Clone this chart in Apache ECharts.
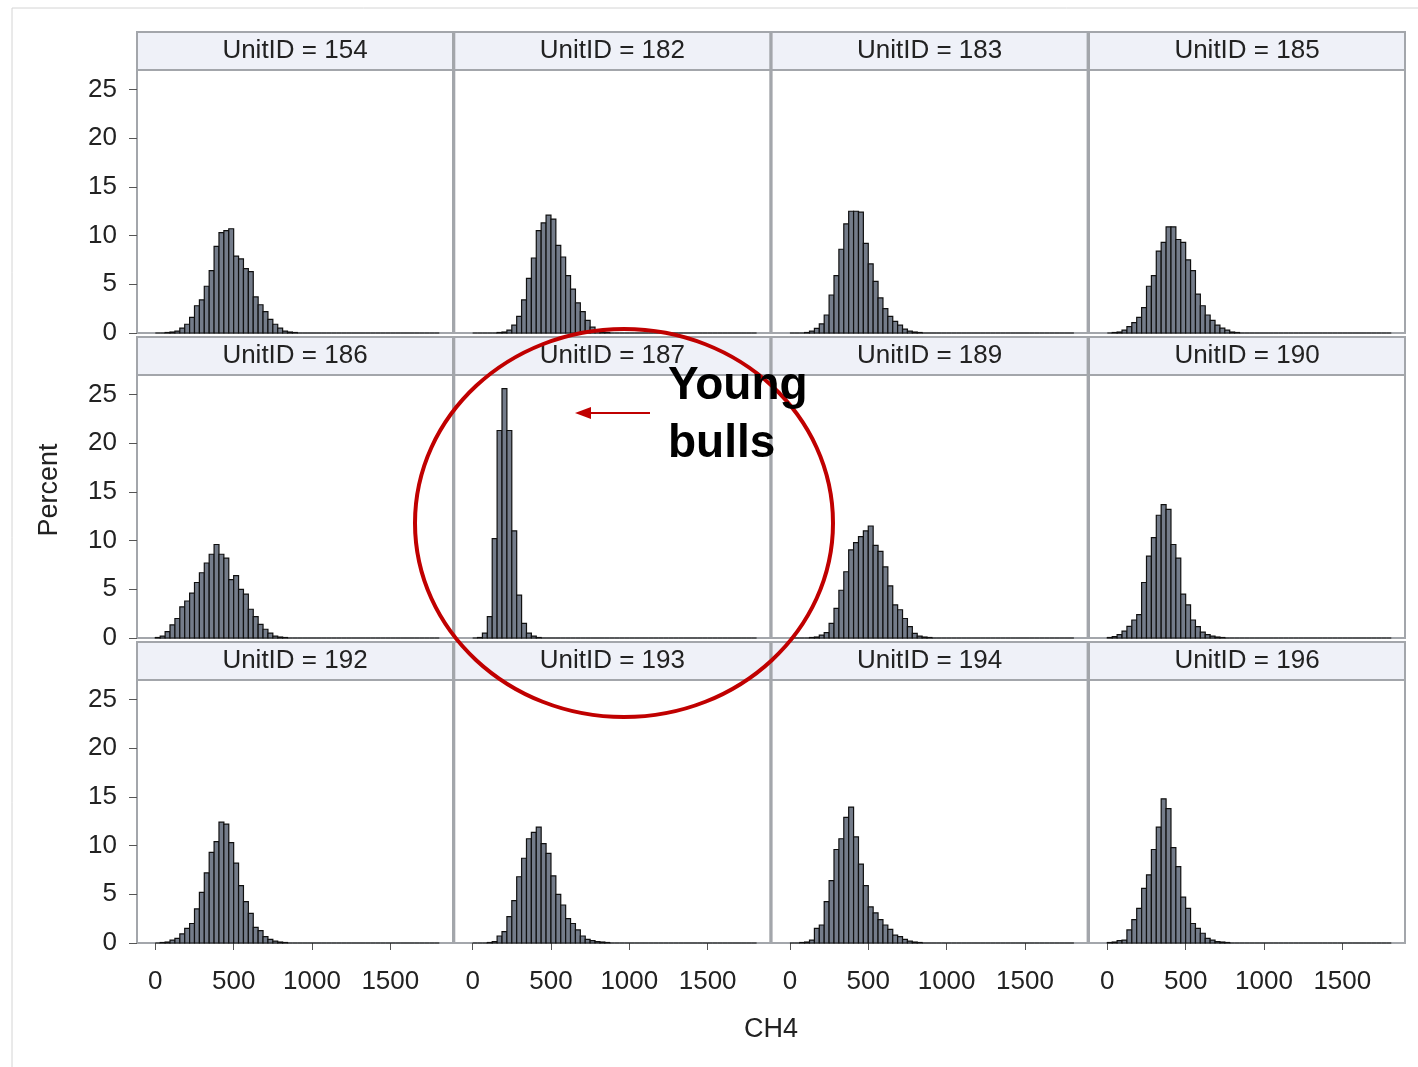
<!DOCTYPE html>
<html>
<head>
<meta charset="utf-8">
<script src="https://cdn.jsdelivr.net/npm/echarts@6/dist/echarts.min.js"></script>
<style>
  html, body { margin: 0; padding: 0; background: #ffffff; }
  #chart { width: 1418px; height: 1067px; }
</style>
</head>
<body>
<div id="chart"></div>
<script>
// Panel labels (one histogram per unit)
const unitIds = ['154', '182', '183', '185', '186', '187', '189', '190', '192', '193', '194', '196'];

// Histogram bin width in CH4 units; bin k spans [k*w, (k+1)*w]
const BIN_WIDTH = 31.25;

// Percent of records falling in each CH4 bin (58 bins, 0 .. 1812.5)
const pct154 = [
  0, 0, 0.05, 0.1, 0.2, 0.5, 0.9, 1.6, 2.8, 3.4,
  4.8, 6.4, 8.9, 10.3, 10.5, 10.7, 7.9, 7.6, 6.6, 6.3,
  3.7, 2.9, 2.2, 1.4, 0.9, 0.5, 0.2, 0.1, 0.05, 0,
  0, 0, 0, 0, 0, 0, 0, 0, 0, 0,
  0, 0, 0, 0, 0, 0, 0, 0, 0, 0,
  0, 0, 0, 0, 0, 0, 0, 0
];
const pct182 = [
  0, 0, 0, 0, 0, 0.05, 0.1, 0.3, 0.8, 1.7,
  3.4, 5.6, 7.7, 10.5, 11.3, 12.1, 11.7, 9.0, 7.8, 5.9,
  4.5, 3.1, 2.2, 1.3, 0.6, 0.3, 0.1, 0.05, 0, 0,
  0, 0, 0, 0, 0, 0, 0, 0, 0, 0,
  0, 0, 0, 0, 0, 0, 0, 0, 0, 0,
  0, 0, 0, 0, 0, 0, 0, 0
];
const pct183 = [
  0, 0, 0, 0.05, 0.2, 0.48, 0.93, 1.85, 3.9, 5.9,
  8.6, 11.2, 12.5, 12.5, 12.4, 9.2, 7.1, 5.3, 3.6, 2.5,
  1.7, 1.2, 0.8, 0.4, 0.2, 0.1, 0.05, 0, 0, 0,
  0, 0, 0, 0, 0, 0, 0, 0, 0, 0,
  0, 0, 0, 0, 0, 0, 0, 0, 0, 0,
  0, 0, 0, 0, 0, 0, 0, 0
];
const pct185 = [
  0, 0.05, 0.1, 0.3, 0.65, 1.06, 1.6, 2.6, 4.8, 5.9,
  8.4, 9.3, 10.9, 10.9, 9.6, 9.3, 7.5, 6.4, 4.0, 2.8,
  1.85, 1.3, 0.8, 0.5, 0.3, 0.1, 0.05, 0, 0, 0,
  0, 0, 0, 0, 0, 0, 0, 0, 0, 0,
  0, 0, 0, 0, 0, 0, 0, 0, 0, 0,
  0, 0, 0, 0, 0, 0, 0, 0
];
const pct186 = [
  0.05, 0.2, 0.65, 1.34, 2.0, 3.2, 3.8, 4.6, 5.7, 6.7,
  7.7, 8.6, 9.6, 8.6, 8.2, 6.0, 6.4, 5.0, 4.5, 2.95,
  2.2, 1.4, 0.9, 0.5, 0.2, 0.1, 0.05, 0, 0, 0,
  0, 0, 0, 0, 0, 0, 0, 0, 0, 0,
  0, 0, 0, 0, 0, 0, 0, 0, 0, 0,
  0, 0, 0, 0, 0, 0, 0, 0
];
const pct187 = [
  0, 0.05, 0.5, 2.2, 10.2, 21.3, 25.6, 21.3, 11.0, 4.4,
  1.5, 0.5, 0.2, 0.05, 0, 0, 0, 0, 0, 0,
  0, 0, 0, 0, 0, 0, 0, 0, 0, 0,
  0, 0, 0, 0, 0, 0, 0, 0, 0, 0,
  0, 0, 0, 0, 0, 0, 0, 0, 0, 0,
  0, 0, 0, 0, 0, 0, 0, 0
];
const pct189 = [
  0, 0, 0, 0, 0.05, 0.1, 0.3, 0.55, 1.5, 3.05,
  4.9, 6.8, 9.05, 9.8, 10.4, 11.0, 11.5, 9.5, 8.9, 7.3,
  5.35, 3.4, 2.9, 2.0, 1.16, 0.48, 0.2, 0.1, 0.05, 0,
  0, 0, 0, 0, 0, 0, 0, 0, 0, 0,
  0, 0, 0, 0, 0, 0, 0, 0, 0, 0,
  0, 0, 0, 0, 0, 0, 0, 0
];
const pct190 = [
  0.05, 0.15, 0.35, 0.7, 1.2, 1.85, 2.4, 5.7, 8.4, 10.3,
  12.6, 13.7, 13.2, 9.6, 8.2, 4.5, 3.4, 1.85, 1.16, 0.6,
  0.35, 0.2, 0.1, 0.05, 0, 0, 0, 0, 0, 0,
  0, 0, 0, 0, 0, 0, 0, 0, 0, 0,
  0, 0, 0, 0, 0, 0, 0, 0, 0, 0,
  0, 0, 0, 0, 0, 0, 0, 0
];
const pct192 = [
  0, 0.05, 0.1, 0.3, 0.48, 0.93, 1.5, 2.0, 3.5, 5.2,
  7.2, 9.3, 10.4, 12.4, 12.2, 10.3, 8.2, 5.9, 4.25, 3.05,
  1.6, 1.27, 0.65, 0.38, 0.2, 0.1, 0.05, 0, 0, 0,
  0, 0, 0, 0, 0, 0, 0, 0, 0, 0,
  0, 0, 0, 0, 0, 0, 0, 0, 0, 0,
  0, 0, 0, 0, 0, 0, 0, 0
];
const pct193 = [
  0, 0, 0, 0.05, 0.15, 0.72, 1.16, 2.7, 4.35, 6.8,
  8.7, 10.7, 11.35, 11.9, 10.2, 9.2, 6.9, 5.0, 3.9, 2.5,
  2.0, 1.34, 0.72, 0.38, 0.25, 0.15, 0.1, 0.05, 0, 0,
  0, 0, 0, 0, 0, 0, 0, 0, 0, 0,
  0, 0, 0, 0, 0, 0, 0, 0, 0, 0,
  0, 0, 0, 0, 0, 0, 0, 0
];
const pct194 = [
  0, 0, 0.05, 0.1, 0.3, 1.5, 1.85, 4.25, 6.4, 9.6,
  10.7, 12.9, 13.95, 10.9, 8.1, 5.9, 3.7, 3.1, 2.4, 1.85,
  1.4, 0.8, 0.65, 0.38, 0.2, 0.1, 0.05, 0, 0, 0,
  0, 0, 0, 0, 0, 0, 0, 0, 0, 0,
  0, 0, 0, 0, 0, 0, 0, 0, 0, 0,
  0, 0, 0, 0, 0, 0, 0, 0
];
const pct196 = [
  0.05, 0.1, 0.24, 0.3, 1.34, 2.4, 3.55, 5.6, 7.0, 9.6,
  11.9, 14.8, 13.8, 9.8, 7.85, 4.7, 3.55, 2.0, 1.5, 1.0,
  0.48, 0.3, 0.15, 0.1, 0.05, 0, 0, 0, 0, 0,
  0, 0, 0, 0, 0, 0, 0, 0, 0, 0,
  0, 0, 0, 0, 0, 0, 0, 0, 0, 0,
  0, 0, 0, 0, 0, 0, 0, 0
];
const percentByUnit = [
  pct154, pct182, pct183, pct185,
  pct186, pct187, pct189, pct190,
  pct192, pct193, pct194, pct196
];

// Axis ticks
const xTickValues = [0, 500, 1000, 1500];
const yTickStep = 5;

// Panel geometry
const COLS = 4;
const panelLeft = [137, 454.3, 771.6, 1089];
const panelTop = [70, 375, 680];
const panelWidth = 316;
const panelHeight = 263;
const stripHeight = 38;

const FONT = '"Liberation Sans", Arial, Helvetica, sans-serif';
const TEXT = '#222222';
const FRAME = '#a3a6ab';
const STRIP_FILL = '#eff1f8';
const BAR_FILL = '#747c8a';
const BAR_EDGE = '#101010';
const ANNOT_RED = '#c00000';

const chart = echarts.init(document.getElementById('chart'), null, { renderer: 'canvas' });

const grids = [], xAxes = [], yAxes = [], series = [], graphics = [];

function renderBin(params, api) {
  const top = api.coord([api.value(0), api.value(2)]);
  const base = api.coord([api.value(1), 0]);
  return {
    type: 'rect',
    shape: { x: top[0], y: top[1], width: base[0] - top[0], height: base[1] - top[1] },
    style: { fill: BAR_FILL, stroke: BAR_EDGE, lineWidth: 1.2 }
  };
}

unitIds.forEach((id, i) => {
  const row = Math.floor(i / COLS);
  const col = i % COLS;
  const isBottom = row === panelTop.length - 1;
  const isLeft = col === 0;
  const left = panelLeft[col];
  const top = panelTop[row];

  grids.push({
    left: left, top: top, width: panelWidth, height: panelHeight,
    show: true, borderColor: FRAME, borderWidth: 2, backgroundColor: '#ffffff'
  });

  xAxes.push({
    type: 'value', gridIndex: i, min: -117, max: 1900, position: 'bottom',
    axisLine: { show: false, onZero: false },
    splitLine: { show: false },
    axisTick: { show: isBottom, customValues: xTickValues, length: 7, lineStyle: { color: '#555' } },
    axisLabel: {
      show: isBottom, customValues: xTickValues, margin: 26,
      fontFamily: FONT, fontSize: 26, color: TEXT,
      formatter: (v) => String(v)
    }
  });

  yAxes.push({
    type: 'value', gridIndex: i, min: 0, max: 27, interval: yTickStep, position: 'left',
    axisLine: { show: false, onZero: false },
    splitLine: { show: false },
    axisTick: { show: isLeft, length: 8, lineStyle: { color: '#555' } },
    axisLabel: { show: isLeft, margin: 20, fontFamily: FONT, fontSize: 26, color: TEXT }
  });

  series.push({
    type: 'custom', xAxisIndex: i, yAxisIndex: i,
    data: percentByUnit[i].map((p, k) => [k * BIN_WIDTH, (k + 1) * BIN_WIDTH, p]),
    encode: { x: [0, 1], y: 2 },
    renderItem: renderBin,
    silent: true
  });

  // Header strip with the unit label
  graphics.push({
    type: 'rect', z: 10,
    shape: { x: left, y: top - stripHeight, width: panelWidth, height: stripHeight },
    style: { fill: STRIP_FILL, stroke: FRAME, lineWidth: 2 }
  });
  graphics.push({
    type: 'text', z: 11,
    x: left + panelWidth / 2, y: top - stripHeight / 2,
    style: {
      text: 'UnitID = ' + id, fontFamily: FONT, fontSize: 26, fill: TEXT,
      textAlign: 'center', textVerticalAlign: 'middle'
    }
  });
});

// Axis titles
graphics.push({
  type: 'text', z: 11, x: 50, y: 490, rotation: Math.PI / 2,
  style: { text: 'Percent', fontFamily: FONT, fontSize: 27, fill: TEXT, textAlign: 'center', textVerticalAlign: 'middle' }
});
graphics.push({
  type: 'text', z: 11, x: 771, y: 1030,
  style: { text: 'CH4', fontFamily: FONT, fontSize: 27, fill: TEXT, textAlign: 'center', textVerticalAlign: 'middle' }
});

// Page frame lines
graphics.push({ type: 'line', z: 1, shape: { x1: 12, y1: 8, x2: 1418, y2: 8 }, style: { stroke: '#d4d4d4', lineWidth: 1 } });
graphics.push({ type: 'line', z: 1, shape: { x1: 12, y1: 8, x2: 12, y2: 1067 }, style: { stroke: '#d4d4d4', lineWidth: 1 } });

// Callout: ring around unit 187, arrow and note
graphics.push({
  type: 'ellipse', z: 50,
  shape: { cx: 624, cy: 523, rx: 209, ry: 194 },
  style: { fill: 'none', stroke: ANNOT_RED, lineWidth: 4 }
});
graphics.push({
  type: 'line', z: 50,
  shape: { x1: 650, y1: 413, x2: 588, y2: 413 },
  style: { stroke: ANNOT_RED, lineWidth: 2 }
});
graphics.push({
  type: 'polygon', z: 50,
  shape: { points: [[575, 413], [591, 407], [591, 419]] },
  style: { fill: ANNOT_RED }
});
graphics.push({
  type: 'text', z: 51, x: 668, y: 386,
  style: { text: 'Young', fontFamily: FONT, fontWeight: 'bold', fontSize: 46, fill: '#000', textAlign: 'left', textVerticalAlign: 'middle' }
});
graphics.push({
  type: 'text', z: 51, x: 668, y: 444,
  style: { text: 'bulls', fontFamily: FONT, fontWeight: 'bold', fontSize: 46, fill: '#000', textAlign: 'left', textVerticalAlign: 'middle' }
});

chart.setOption({
  animation: false,
  backgroundColor: '#ffffff',
  grid: grids,
  xAxis: xAxes,
  yAxis: yAxes,
  series: series,
  graphic: graphics
});
</script>
</body>
</html>
